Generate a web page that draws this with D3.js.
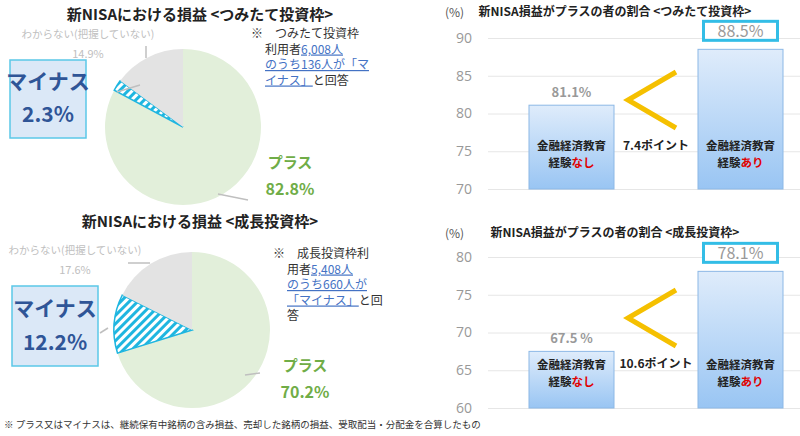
<!DOCTYPE html>
<html><head><meta charset="utf-8">
<script src="https://cdn.jsdelivr.net/npm/d3@7"></script>
<style>body{margin:0;background:#fff}svg{font-family:"Noto Sans CJK JP","Noto Sans",sans-serif}</style>
</head><body><svg id="c" width="800" height="436"></svg>
<script>
const pieLabels = ["プラス","マイナス","わからない(把握していない)"];
const pieTsumitate = [82.8, 2.3, 14.9];
const pieSeicho = [70.2, 12.2, 17.6];
const barCats = ["金融経済教育経験なし","金融経済教育経験あり"];
const barTsumitate = [81.1, 88.5];
const barSeicho = [67.5, 78.1];
const ticksTsumitate = [70,75,80,85,90];
const ticksSeicho = [60,65,70,75,80];

const svg = d3.select("#c");
const defs = svg.append("defs");
const pat = defs.append("pattern").attr("id","hatch").attr("patternUnits","userSpaceOnUse")
  .attr("width",6).attr("height",6).attr("patternTransform","rotate(45)");
pat.append("rect").attr("width",6).attr("height",6).attr("fill","#fff");
pat.append("rect").attr("width",3).attr("height",6).attr("fill","#1fb6e0");
const grad = defs.append("linearGradient").attr("id","bg").attr("x1",0).attr("y1",0).attr("x2",0).attr("y2",1);
grad.append("stop").attr("offset","0").attr("stop-color","#dfecfb");
grad.append("stop").attr("offset","1").attr("stop-color","#99c5f3");

function pie(vals, cx, cy, r, title, ty, noteLines, noteX, noteY, labels){
  svg.append("text").attr("x",200).attr("y",ty).attr("text-anchor","middle").attr("font-size",15).attr("font-weight","bold").attr("fill","#222").text(title);
  const arcs = d3.pie().sort(null).value(d=>d)(vals);
  const arc = d3.arc().innerRadius(0).outerRadius(r);
  const fills = ["#e2efda","url(#hatch)","#e3e3e3"];
  const g = svg.append("g").attr("transform",`translate(${cx},${cy})`);
  g.selectAll("path").data(arcs).join("path").attr("d",arc)
    .attr("fill",(d,i)=>fills[i]).attr("stroke",(d,i)=>i==1?"#1fb6e0":"none").attr("stroke-width",1.5);
  labels.lines.forEach(l=>svg.append("polyline").attr("points",l).attr("fill","none").attr("stroke","#bfbfbf").attr("stroke-width",1.5));
  svg.append("text").attr("x",labels.plus[0]).attr("y",labels.plus[1]).attr("text-anchor","middle").attr("font-size",15).attr("font-weight","bold").attr("fill","#70ad47").text(pieLabels[0]);
  svg.append("text").attr("x",labels.plus[0]).attr("y",labels.plus[1]+27).attr("text-anchor","middle").attr("font-size",16).attr("font-weight","bold").attr("fill","#70ad47").text(vals[0].toFixed(1)+"%");
  svg.append("text").attr("x",labels.unk[0]).attr("y",labels.unk[1]).attr("text-anchor","middle").attr("font-size",10.5).attr("fill","#c0c0c0").text(pieLabels[2]);
  svg.append("text").attr("x",labels.unk[0]).attr("y",labels.unk[1]+20).attr("text-anchor","middle").attr("font-size",11).attr("fill","#c0c0c0").text(vals[2].toFixed(1)+"%");
  const b = labels.box;
  svg.append("rect").attr("x",b[0]).attr("y",b[1]).attr("width",b[2]).attr("height",b[3]).attr("fill","#dbe8f7").attr("stroke","#5bc8e8").attr("stroke-width",1.5);
  svg.append("text").attr("x",b[0]+b[2]/2).attr("y",b[1]+b[3]*0.37).attr("text-anchor","middle").attr("font-size",21).attr("font-weight","bold").attr("fill","#2f5597").text(pieLabels[1]);
  svg.append("text").attr("x",b[0]+b[2]/2).attr("y",b[1]+b[3]*0.8).attr("text-anchor","middle").attr("font-size",21).attr("font-weight","bold").attr("fill","#2f5597").text(vals[1].toFixed(1)+"%");
  const t = svg.append("text").attr("font-size",12).attr("fill","#333");
  noteLines.forEach((ln,i)=>{
    const tl = t.append("tspan").attr("x",noteX[i]).attr("y",noteY+i*15.5);
    ln.forEach(seg=>{ const s=tl.append("tspan").text(seg[0]); if(seg[1]) s.attr("fill","#4472c4").attr("text-decoration","underline"); });
  });
}

pie(pieTsumitate,183,127,78,"新NISAにおける損益 <つみたて投資枠>",20,
  [[["※　つみたて投資枠"]],[["利用者"],["6,008人",1]],[["のうち136人が「マ",1]],[["イナス」",1],["と回答"]]],
  [251,265,265,265],38,
  {lines:["117,92 140,85","146,58 146,46","218,194 248,200"],plus:[290,168],unk:[88,38],box:[10,60,76,78]});
pie(pieSeicho,192,330,78,"新NISAにおける損益 <成長投資枠>",227,
  [[["※　成長投資枠利"]],[["用者"],["5,408人",1]],[["のうち660人が",1]],[["「マイナス」",1],["と回"]],[["答"]]],
  [273,287,287,287,287],258,
  {lines:["100,333 108,328","128,263 150,263","245,375 260,373"],plus:[305,371],unk:[75,254],box:[12,286,86,80]});

svg.append("text").attr("x",4).attr("y",428).attr("font-size",9.5).attr("fill","#333").text("※ プラス又はマイナスは、継続保有中銘柄の含み損益、売却した銘柄の損益、受取配当・分配金を合算したもの");

function bars(vals, ticks, top, bottom, title, ty, chevY){
  const y = d3.scaleLinear().domain([ticks[0],ticks[ticks.length-1]]).range([bottom,top]);
  const xs = [529,698], w=85;
  svg.append("text").attr("x",615).attr("y",ty).attr("text-anchor","middle").attr("font-size",12).attr("font-weight","bold").attr("fill","#222").text(title);
  svg.append("text").attr("x",445).attr("y",ty+1).attr("font-size",12).attr("fill","#555").text("(%)");
  const ax = svg.append("g").attr("transform","translate(488,0)").call(d3.axisLeft(y).tickValues(ticks).tickSize(-312).tickPadding(16));
  ax.select(".domain").remove();
  ax.selectAll("line").attr("stroke","#e6e6e6");
  ax.selectAll("text").attr("fill","#999").attr("font-size",14).attr("font-family","Open Sans,sans-serif");
  vals.forEach((v,i)=>{
    svg.append("rect").attr("x",xs[i]).attr("y",y(v)).attr("width",w).attr("height",bottom-y(v)).attr("fill","url(#bg)").attr("stroke","#8cb8e6");
    const cx = xs[i]+w/2;
    const l1 = bottom-(bottom-top)*0.26;
    svg.append("text").attr("x",cx).attr("y",l1).attr("text-anchor","middle").attr("font-size",11.5).attr("font-weight","bold").attr("fill","#222").text("金融経済教育");
    const t = svg.append("text").attr("x",cx).attr("y",l1+17).attr("text-anchor","middle").attr("font-size",11.5).attr("font-weight","bold").attr("fill","#222");
    t.append("tspan").text("経験"); t.append("tspan").attr("fill","#e00000").text(i==0?"なし":"あり");
    if(i==1){
      svg.append("rect").attr("x",cx-37).attr("y",y(v)-28).attr("width",74).attr("height",19).attr("fill","#fff").attr("stroke","#33bde6").attr("stroke-width",3);
      svg.append("text").attr("x",cx).attr("y",y(v)-12).attr("text-anchor","middle").attr("font-size",16).attr("fill","#999").text(v.toFixed(1)+"%");
    } else {
      svg.append("text").attr("x",cx).attr("y",y(v)-8).attr("text-anchor","middle").attr("font-size",13).attr("fill","#999").attr("font-weight","bold").text(ticks[0]==60? v.toFixed(1)+" %" : v.toFixed(1)+"%");
    }
  });
  const mid = chevY;
  svg.append("polyline").attr("points",`676,${mid-28} 628,${mid} 676,${mid+28}`).attr("fill","none").attr("stroke","#f5c000").attr("stroke-width",5);
  svg.append("text").attr("x",656).attr("y",mid+50).attr("text-anchor","middle").attr("font-size",12).attr("font-weight","bold").attr("fill","#222").text((vals[1]-vals[0]).toFixed(1)+"ポイント");
}
bars(barTsumitate,ticksTsumitate,38,189,"新NISA損益がプラスの者の割合 <つみたて投資枠>",16,100);
bars(barSeicho,ticksSeicho,257,408,"新NISA損益がプラスの者の割合 <成長投資枠>",237,318);
</script></body></html>
